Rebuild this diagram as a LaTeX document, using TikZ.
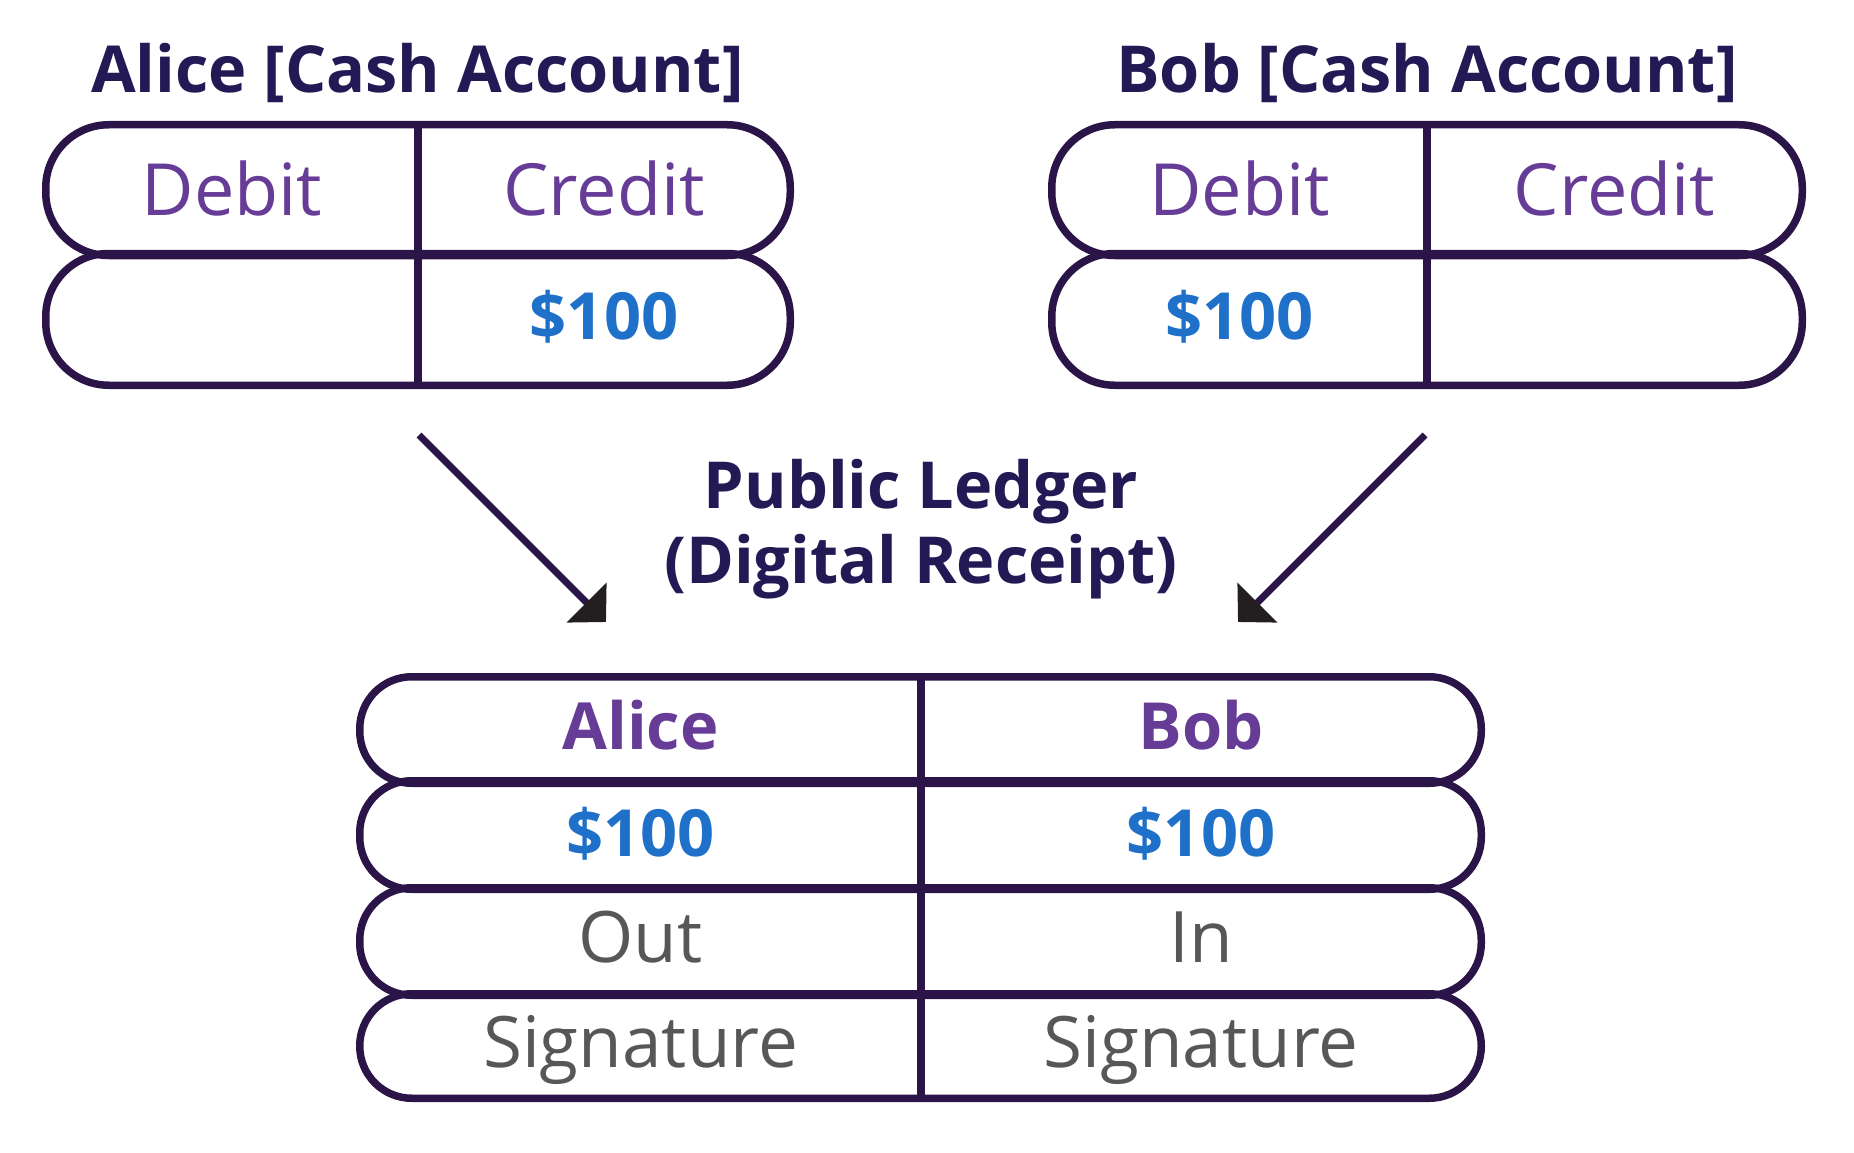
\documentclass[tikz,border=0pt]{standalone}
\usepackage{fontspec}
\setmainfont{Open Sans}
\usetikzlibrary{arrows.meta}
\definecolor{titlec}{HTML}{231A55}
\definecolor{linec}{HTML}{2B1447}
\definecolor{purp}{HTML}{663C97}
\definecolor{bluec}{HTML}{1F70C9}
\definecolor{grayt}{HTML}{575757}
\definecolor{tipc}{HTML}{231F20}
\tikzset{
  pill/.style={draw=linec, line width=7.5pt, rounded corners=63pt},
  lpill/.style={draw=linec, line width=7.5pt, rounded corners=52pt},
  divider/.style={draw=linec, line width=7.5pt},
  titletxt/.style={font=\fontsize{64.8}{70}\selectfont\bfseries, text=titlec, anchor=base, inner sep=0pt},
  headtxt/.style={font=\fontsize{72}{76}\selectfont, text=purp, anchor=base, inner sep=0pt},
  boldhead/.style={font=\fontsize{65}{70}\selectfont\bfseries, text=purp, anchor=base, inner sep=0pt},
  amount/.style={font=\fontsize{65}{70}\selectfont\bfseries, text=bluec, anchor=base, inner sep=0pt},
  graytxt/.style={font=\fontsize{71}{76}\selectfont, text=grayt, anchor=base, inner sep=0pt},
  flow/.style={draw=linec, line width=7pt, -{Triangle[length=27.5pt, width=55pt, color=tipc]}},
}
\begin{document}
\begin{tikzpicture}[x=1pt,y=-1pt]
\useasboundingbox (0,0) rectangle (1854,1153);
\fill[white] (0,0) rectangle (1854,1153);

% Alice cash account
\node[titletxt] (atitle) at (417.5,93) {Alice [Cash Account]};
\draw[pill] (45.75,124.75) rectangle (790.25,255.5);
\draw[pill] (45.75,253.5) rectangle (790.25,385.25);
\draw[divider] (418,124.75) -- (418,385.25);
\node[headtxt] (adebit) at (232,215) {Debit};
\node[headtxt] (acredit) at (604,215) {Credit};
\node[amount] (acr) at (604,339) {\$100};

% Bob cash account
\node[titletxt] (btitle) at (1427,93) {Bob [Cash Account]};
\draw[pill] (1051.75,124.75) rectangle (1802.25,255.5);
\draw[pill] (1051.75,253.5) rectangle (1802.25,385.25);
\draw[divider] (1427,124.75) -- (1427,385.25);
\node[headtxt] (bdebit) at (1239.5,215) {Debit};
\node[headtxt] (bcredit) at (1614.5,215) {Credit};
\node[amount] (bdr) at (1239.5,339) {\$100};

% Public ledger title
\node[titletxt] (pl1) at (921,508) {Public Ledger};
\node[titletxt] (pl2) at (921,583) {(Digital Receipt)};

% Ledger table
\draw[lpill] (359.75,676.75) rectangle (1481.25,783.25);
\draw[lpill] (359.75,780.75) rectangle (1481.25,889.25);
\draw[lpill] (359.75,887.75) rectangle (1481.25,995.25);
\draw[lpill] (359.75,993.75) rectangle (1481.25,1098.25);
\draw[divider] (921,676.75) -- (921,1098.25);
\node[boldhead] (lalice) at (640.5,749) {Alice};
\node[boldhead] (lbob) at (1201,749) {Bob};
\node[amount] (lam1) at (640.5,856) {\$100};
\node[amount] (lam2) at (1201,856) {\$100};
\node[graytxt] (lout) at (640.5,962) {Out};
\node[graytxt] (lin) at (1201,962) {In};
\node[graytxt] (lsig1) at (640.5,1067) {Signature};
\node[graytxt] (lsig2) at (1201,1067) {Signature};

% Arrows
\coordinate (afrom) at (419,435);
\coordinate (ato) at (606,622);
\coordinate (bfrom) at (1425,435);
\coordinate (bto) at (1238,622);
\draw[flow] (afrom) -- (ato);
\draw[flow] (bfrom) -- (bto);
\end{tikzpicture}
\end{document}
